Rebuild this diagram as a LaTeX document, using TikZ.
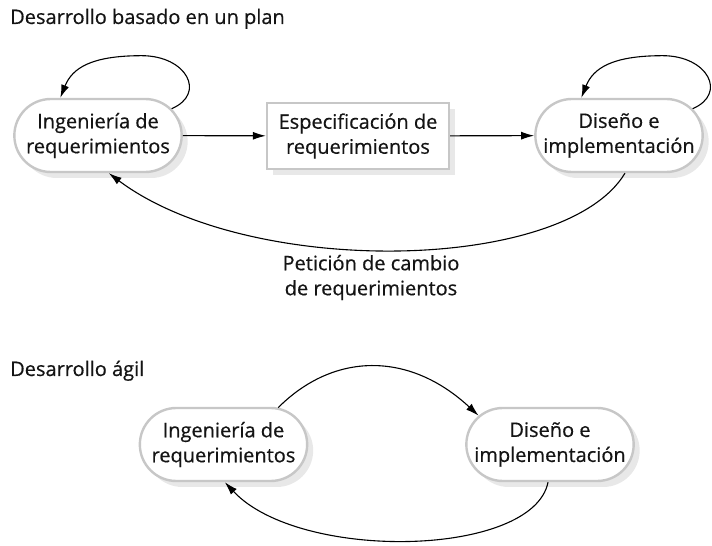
\documentclass[tikz,border=0pt]{standalone}
\usepackage{fontspec}
\setmainfont{Open Sans}[FakeBold=0.5]
\usetikzlibrary{shapes.misc,shadows,arrows.meta}

\begin{document}
\begin{tikzpicture}[x=1pt,y=1pt,
    font=\fontsize{20}{25}\selectfont, text=black!92,
    proceso/.style={rounded rectangle, draw=black!22, line width=2.4pt, fill=white,
      minimum width=174pt, minimum height=73pt, align=center,
      drop shadow={shadow xshift=6pt,shadow yshift=-6pt,fill=black!9,opacity=1}},
    documento/.style={rectangle, draw=black!22, line width=2.4pt, fill=white,
      minimum width=182pt, minimum height=66pt, align=center,
      drop shadow={shadow xshift=6pt,shadow yshift=-6pt,fill=black!9,opacity=1}},
    flecha/.style={-{Latex[length=13pt,width=8pt]}, line width=1.1pt},
    titulo/.style={anchor=base west, inner sep=0pt}]
  \useasboundingbox (0,0) rectangle (712,546);

  % desarrollo basado en un plan
  \node[titulo] (plan) at (10,522) {Desarrollo basado en un plan};
  \path
  (98,410.5) node[proceso] (ing1) {Ingeniería de\\requerimientos}
  (358,410) node[documento] (esp) {Especificación de\\requerimientos}
  (619,410.5) node[proceso] (dis1) {Diseño e\\implementación}
  (371,268.5) node[align=center] (peticion) {Petición de cambio\\de requerimientos}
  ;

  \draw[flecha] (ing1) -- (esp);
  \draw[flecha] (esp) -- (dis1);
  \draw[flecha] (ing1.20) .. controls +(35,15) and +(45,0) .. ++(-30,53)
    .. controls +(-50,0) and +(12,30) .. (ing1.135);
  \draw[flecha] (dis1.20) .. controls +(35,15) and +(45,0) .. ++(-30,53)
    .. controls +(-50,0) and +(12,30) .. (dis1.135);
  \draw[flecha] (dis1.279) .. controls +(-60,-100) and +(140,-105) .. (ing1.286);

  % desarrollo agil
  \node[titulo] (agil) at (10,170) {Desarrollo ágil};
  \path
  (223.5,101.5) node[proceso] (ing2) {Ingeniería de\\requerimientos}
  (550,101.5) node[proceso] (dis2) {Diseño e\\implementación}
  ;

  \draw[flecha] (ing2.34) .. controls +(55,55) and +(-70,65) .. (dis2.158);
  \draw[flecha] (dis2.267) .. controls +(-15,-75) and +(75,-80) .. (ing2.272);
\end{tikzpicture}
\end{document}
